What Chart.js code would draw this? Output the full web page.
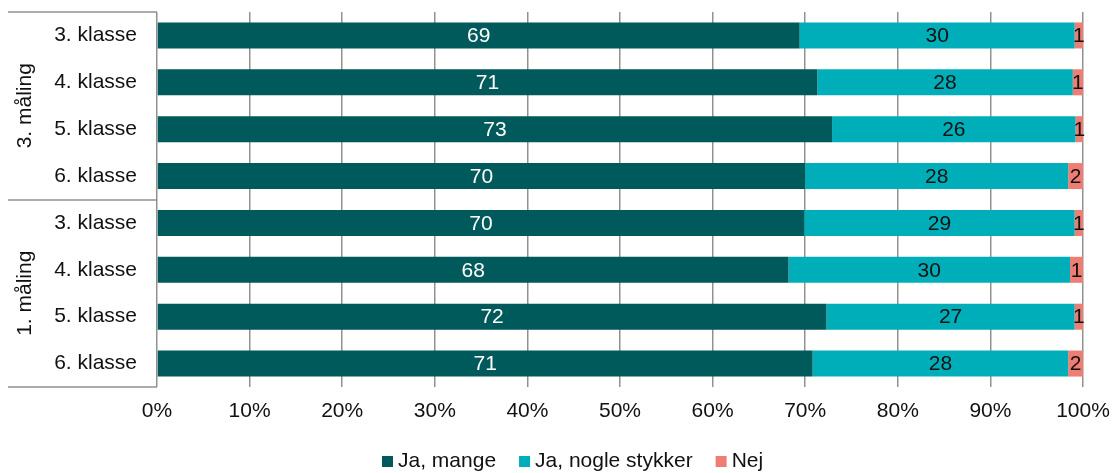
<!DOCTYPE html>
<html>
<head>
<meta charset="utf-8">
<script src="https://cdn.jsdelivr.net/npm/chart.js@4/dist/chart.umd.min.js"></script>
<style>
    html, body { margin: 0; padding: 0; background: #fff; }
    #wrap { width: 1113px; height: 473px; }
</style>
</head>
<body>
<div id="wrap"><canvas id="chart"></canvas></div>
<script>
// Data
const categories = ['3. klasse', '4. klasse', '5. klasse', '6. klasse', '3. klasse', '4. klasse', '5. klasse', '6. klasse'];
const groups = ['3. måling', '1. måling'];
const jaMange = [69.4, 71.3, 72.9, 70.0, 69.9, 68.2, 72.3, 70.8];
const jaNogle = [29.7, 27.6, 26.3, 28.4, 29.2, 30.4, 26.8, 27.6];
const nej = [0.9, 1.1, 0.8, 1.6, 0.9, 1.4, 0.9, 1.6];
const xTicks = [0, 10, 20, 30, 40, 50, 60, 70, 80, 90, 100];

const FONT = "'Liberation Sans', Arial, sans-serif";
const GRID = '#919191';
Chart.defaults.font.family = FONT;
Chart.defaults.font.size = 21;
Chart.defaults.color = '#111';

// Labels inside the bar segments
const segmentLabels = {
    id: 'segmentLabels',
    afterDatasetsDraw(chart) {
        const ctx = chart.ctx;
        ctx.save();
        ctx.font = '21px ' + FONT;
        ctx.textAlign = 'center';
        ctx.textBaseline = 'middle';
        chart.data.datasets.forEach((ds, di) => {
            chart.getDatasetMeta(di).data.forEach((bar, i) => {
                const p = bar.getProps(['x', 'base', 'y'], true);
                ctx.fillStyle = di === 0 ? '#fff' : '#111';
                ctx.fillText(Math.round(ds.data[i]), (p.x + p.base) / 2, p.y + 1);
            });
        });
        ctx.restore();
    }
};

// Two-level category box on the left
const groupBox = {
    id: 'groupBox',
    afterDraw(chart) {
        const ctx = chart.ctx;
        const a = chart.chartArea;
        const mid = (a.top + a.bottom) / 2;
        ctx.save();
        ctx.strokeStyle = GRID;
        ctx.lineWidth = 1.5;
        [a.top, mid, a.bottom].forEach(y => {
            ctx.beginPath();
            ctx.moveTo(8, Math.round(y));
            ctx.lineTo(a.left, Math.round(y));
            ctx.stroke();
        });
        ctx.font = '21px ' + FONT;
        ctx.fillStyle = '#111';
        ctx.textAlign = 'center';
        ctx.textBaseline = 'middle';
        [(a.top + mid) / 2, (mid + a.bottom) / 2].forEach((y, i) => {
            ctx.save();
            ctx.translate(25, y);
            ctx.rotate(-Math.PI / 2);
            ctx.fillText(groups[i], 0, 0);
            ctx.restore();
        });
        ctx.restore();
    }
};

// Legend drawn by hand (Excel-like spacing)
const bottomLegend = {
    id: 'bottomLegend',
    afterDraw(chart) {
        const ctx = chart.ctx;
        const box = 11, gapText = 5, gapItem = 23, y = 461.5;
        ctx.save();
        ctx.font = '21px ' + FONT;
        ctx.textBaseline = 'middle';
        ctx.textAlign = 'left';
        const items = chart.data.datasets.map(ds => ({ text: ds.label, color: ds.backgroundColor, w: ctx.measureText(ds.label).width }));
        const total = items.reduce((s, it) => s + box + gapText + it.w, 0) + gapItem * (items.length - 1);
        let x = Math.round(572.5 - total / 2);
        items.forEach(it => {
            ctx.fillStyle = it.color;
            ctx.fillRect(x, Math.round(y - box / 2), box, box);
            x += box + gapText;
            ctx.fillStyle = '#111';
            ctx.fillText(it.text, x, y);
            x += it.w + gapItem;
        });
        ctx.restore();
    }
};

new Chart(document.getElementById('chart'), {
    type: 'bar',
    data: {
        labels: categories,
        datasets: [
            { label: 'Ja, mange', data: jaMange, backgroundColor: '#00595A' },
            { label: 'Ja, nogle stykker', data: jaNogle, backgroundColor: '#00AEB9' },
            { label: 'Nej', data: nej, backgroundColor: '#EE7D74' }
        ]
    },
    options: {
        indexAxis: 'y',
        responsive: true,
        maintainAspectRatio: false,
        animation: false,
        layout: { padding: { top: 12, right: 30, left: 0, bottom: 40 } },
        datasets: { bar: { barPercentage: 0.555, categoryPercentage: 1 } },
        plugins: {
            legend: { display: false },
            tooltip: { enabled: false }
        },
        scales: {
            x: {
                stacked: true,
                min: 0,
                max: 100,
                afterBuildTicks: (s) => { s.ticks = xTicks.map(v => ({ value: v })); },
                afterFit: (s) => { s.height = 46; s.paddingLeft = 0; s.paddingRight = 0; },
                grid: { color: GRID, lineWidth: 1.5, drawTicks: false },
                border: { display: false },
                ticks: { padding: 12, callback: (v) => v + '%', maxRotation: 0 }
            },
            y: {
                stacked: true,
                afterFit: (s) => { s.width = 157; s.paddingTop = 0; s.paddingBottom = 0; },
                grid: { display: false, drawTicks: false },
                border: { display: false },
                ticks: { padding: 20 }
            }
        }
    },
    plugins: [segmentLabels, groupBox, bottomLegend]
});
</script>
</body>
</html>
